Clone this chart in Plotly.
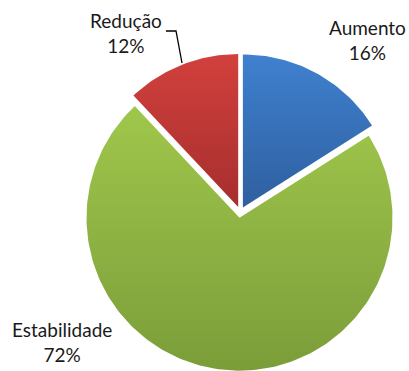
import numpy as np
import plotly.graph_objects as go

# Share of responses per category (percent)
categories = ["Aumento", "Estabilidade", "Redução"]
values = [16, 72, 12]
# gradient ends per slice: (bottom, top)
gradients = [("#2f5f9f", "#3f81d0"), ("#7b9d39", "#a0c74c"), ("#a52f2e", "#d2403d")]

W, H = 409, 371
cx, cy = 240.2, H - 212.2   # pie centre (axis units = pixels)
radius = 153.0
explode = 5.5               # outward offset of each slice

fig = go.Figure()

total = sum(values)
start = 0.0
for name, v, (c_bot, c_top) in zip(categories, values, gradients):
    frac0 = start / total
    frac1 = (start + v) / total
    start += v
    th = np.linspace(frac0, frac1, max(8, int(300 * (frac1 - frac0)))) * 2 * np.pi
    mid = (frac0 + frac1) * np.pi
    ox, oy = cx + explode * np.sin(mid), cy + explode * np.cos(mid)
    xs = np.concatenate([[ox], ox + radius * np.sin(th), [ox]])
    ys = np.concatenate([[oy], oy + radius * np.cos(th), [oy]])
    fig.add_trace(go.Scatter(
        x=xs, y=ys, mode="lines", fill="toself",
        line=dict(width=0, color=c_top),
        fillgradient=dict(type="vertical", colorscale=[[0, c_bot], [1, c_top]]),
        name=name, hoverinfo="name", showlegend=False,
    ))

# Outside labels: name and percentage beside each slice
label_pos = {
    "Aumento": (367, 40),
    "Estabilidade": (62, 342),
    "Redução": (126, 33),
}
for name, v in zip(categories, values):
    px, py = label_pos[name]
    fig.add_annotation(
        x=px, y=H - py, xref="x", yref="y",
        text=f"{name}<br>{round(100 * v / total)}%",
        showarrow=False, xanchor="center", yanchor="middle",
        font=dict(family="Lato", size=19, color="#1a1a1a"),
        align="center",
    )

# Leader line from the "Redução" label to its slice
pts = [(166, 31), (176, 31), (182, 63)]
path = "M " + " L ".join(f"{x},{H - y}" for x, y in pts)
fig.add_shape(type="path", path=path, xref="x", yref="y",
              line=dict(color="black", width=1.3))

fig.update_xaxes(range=[0, W], visible=False, fixedrange=True)
fig.update_yaxes(range=[0, H], visible=False, fixedrange=True)
fig.update_layout(
    width=W, height=H,
    margin=dict(l=0, r=0, t=0, b=0),
    paper_bgcolor="white",
    plot_bgcolor="white",
)

fig.write_html("out.html")
